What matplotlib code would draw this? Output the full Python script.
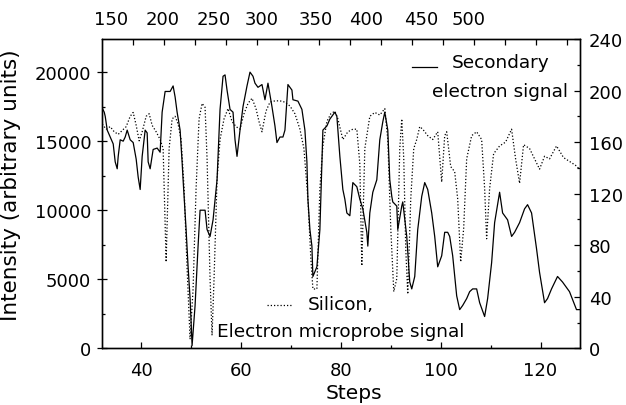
import numpy as np
import matplotlib
matplotlib.use("Agg")
import matplotlib.pyplot as plt
from matplotlib.ticker import MultipleLocator

# ------- data -------
se_steps = [32.2, 32.6, 32.8, 33.2, 33.8, 34.4, 34.8, 35.2, 35.4, 35.8, 36.4, 36.8, 37.2, 37.8,
            38.4, 39.0, 39.4, 39.8, 40.2, 40.8, 41.2, 41.4, 41.8, 42.4, 43.2, 43.8, 44.2, 44.8,
            45.8, 46.4, 46.8, 47.2, 47.8, 48.2, 48.4, 49.0, 49.4, 49.8, 50.2, 50.8, 51.4, 51.8,
            52.8, 53.2, 53.8, 54.4, 55.2, 55.8, 56.4, 56.8, 57.2, 57.8, 58.4, 58.8, 59.2, 59.8,
            60.4, 61.2, 61.8, 62.4, 62.8, 63.4, 64.2, 64.8, 65.4, 66.2, 66.8, 67.2, 67.8, 68.4,
            68.8, 69.4, 70.2, 70.4, 71.4, 72.2, 72.8, 73.2, 73.4, 73.8, 74.2, 74.4, 75.2, 75.8,
            76.4, 77.2, 77.8, 78.8, 79.2, 79.8, 80.4, 80.8, 81.2, 81.8, 82.4, 83.2, 83.8, 84.4,
            85.2, 85.4, 85.8, 86.4, 87.2, 87.8, 88.4, 88.8, 89.4, 89.8, 90.2, 90.4, 91.2, 91.4,
            92.2, 92.4, 93.2, 93.8, 94.2, 94.8, 95.4, 96.2, 96.8, 97.4, 98.2, 98.8, 99.4, 100.2,
            100.8, 101.4, 101.8, 102.4, 103.2, 103.8, 104.4, 105.2, 105.8, 106.4, 107.2, 107.8,
            108.8, 109.4, 110.2, 110.8, 111.8, 112.4, 113.4, 114.2, 114.8, 115.8, 116.8, 117.4,
            118.2, 119.2, 119.8, 120.8, 121.4, 122.2, 123.4, 124.4, 125.8, 127.2, 127.8]
se_signal = [17400, 17100, 16800, 15800, 15300, 14800, 13500, 13000, 13900, 15100, 15000, 15300,
             15800, 15100, 14900, 13700, 12400, 11500, 13900, 15800, 15600, 13500, 13000, 14400,
             14500, 14200, 17100, 18600, 18600, 19000, 18200, 17100, 15800, 13500, 12200, 8600,
             5900, 3600, 200, 3100, 7400, 10000, 10000, 8600, 8100, 9300, 12200, 17300, 19700,
             19800, 18700, 17300, 17100, 15100, 13900, 15800, 17500, 19000, 20000, 19700, 19200,
             18900, 19100, 18000, 19200, 17500, 16100, 14900, 15300, 15300, 15800, 19100, 18700,
             18000, 17900, 17300, 15800, 13500, 10800, 8600, 7400, 5200, 5900, 8600, 15800, 16100,
             16600, 17100, 16800, 13900, 11500, 10800, 9800, 9600, 12000, 11700, 10800, 10100,
             8400, 7400, 9800, 11300, 12200, 15100, 16400, 17100, 15800, 12200, 11000, 10600,
             10300, 8600, 10300, 10600, 8100, 4800, 4300, 5200, 8600, 11000, 12000, 11500, 9800,
             8100, 5900, 6700, 8400, 8400, 8100, 6700, 3800, 2800, 3100, 3600, 4100, 4300, 4300,
             3300, 2300, 3600, 6200, 9100, 11300, 9800, 9300, 8100, 8400, 9100, 10100, 10400,
             9800, 7200, 5500, 3300, 3600, 4300, 5200, 4800, 4100, 2800, 2800]

si_steps = [32.2, 33.0, 33.8, 34.6, 35.4, 36.2, 37.0, 37.8, 38.4, 39.0, 39.6, 40.2, 41.0, 41.6,
            42.2, 43.0, 43.8, 44.4, 45.0, 45.6, 46.2, 46.8, 47.4, 48.0, 48.6, 49.2, 49.8, 50.4,
            51.0, 51.6, 52.2, 52.8, 53.2, 53.8, 54.2, 54.6, 55.2, 55.8, 56.6, 57.4, 58.2, 59.0,
            59.8, 60.6, 61.4, 62.2, 63.0, 63.6, 64.2, 65.0, 65.8, 66.8, 67.8, 68.8, 69.8, 70.8,
            71.8, 72.6, 73.4, 74.0, 74.4, 75.2, 75.8, 76.4, 77.2, 78.0, 78.8, 79.4, 80.4, 81.4,
            82.4, 83.2, 83.8, 84.2, 84.8, 85.8, 86.8, 87.8, 88.8, 89.4, 90.0, 90.6, 91.2, 91.8,
            92.2, 92.6, 93.0, 93.4, 94.0, 94.6, 95.2, 95.8, 96.4, 97.4, 98.4, 99.4, 100.2, 100.8,
            101.2, 102.0, 102.8, 103.4, 104.0, 104.6, 105.2, 106.2, 107.2, 108.2, 108.8, 109.2,
            109.8, 110.6, 111.8, 113.0, 114.2, 115.0, 115.8, 116.6, 117.8, 118.8, 119.8, 120.8,
            121.8, 123.2, 124.6, 125.8, 127.0, 127.8]
si_signal = [174, 170, 172, 168, 166, 169, 172, 180, 183, 173, 161, 168, 180, 182, 173, 168, 162,
             155, 67, 155, 178, 180, 174, 162, 124, 62, 7, 46, 124, 178, 190, 187, 147, 54, 10, 54,
             131, 162, 178, 186, 176, 172, 170, 182, 190, 194, 186, 176, 168, 184, 191, 192, 192,
             191, 188, 182, 170, 155, 116, 69, 46, 46, 124, 157, 176, 182, 184, 178, 162, 168, 170,
             170, 143, 64, 155, 180, 183, 181, 186, 162, 93, 44, 54, 155, 178, 147, 77, 42, 116,
             155, 162, 172, 170, 165, 162, 168, 129, 165, 168, 141, 137, 116, 67, 93, 147, 165,
             168, 162, 124, 85, 124, 151, 157, 160, 170, 147, 128, 158, 155, 147, 139, 149, 147,
             157, 148, 145, 142, 139]

top_labels = ["150", "200", "250", "300", "350", "400", "450", "500"]
top_label_steps = [34.0, 44.2, 54.6, 64.2, 75.0, 85.0, 96.0, 105.6]

#-------figure------
fig = plt.figure(figsize=(6.26, 4.06), dpi=100)
ax = fig.add_axes([0.1625, 0.1397, 0.764, 0.7618])
ax.plot(se_steps, se_signal, color='black', lw=0.9)
ax.set_xlim(32.1, 127.9)
ax.set_ylim(0, 22400)
ax.xaxis.set_major_locator(MultipleLocator(20))
ax.xaxis.set_minor_locator(MultipleLocator(10))
ax.yaxis.set_major_locator(MultipleLocator(5000))
ax.yaxis.set_minor_locator(MultipleLocator(2500))
ax.tick_params(axis='x', which='major', direction='in', length=4, width=0.9, labelsize=13, pad=9)
ax.tick_params(axis='x', which='minor', direction='in', length=2.5, width=0.9)
ax.tick_params(axis='y', which='major', direction='inout', length=7, width=0.9, labelsize=13, pad=4)
ax.tick_params(axis='y', which='minor', direction='in', length=2.5, width=0.9)
ax.set_xlabel("Steps", fontsize=14.5, va='center')
ax.set_ylabel("Intensity (arbitrary units)", fontsize=15.5)
ax.xaxis.set_label_coords(0.527, -0.143)
ax.yaxis.set_label_coords(-0.168, 0.53)

#-----right axis: silicon----
ax2 = ax.twinx()
ax2.plot(si_steps, si_signal, color='black', lw=0.9, linestyle=(0, (1, 1.6)))
ax2.set_ylim(0, 240)
ax2.yaxis.set_major_locator(MultipleLocator(40))
ax2.yaxis.set_minor_locator(MultipleLocator(20))
ax2.tick_params(axis='y', which='major', direction='in', length=4, width=0.9, labelsize=13, pad=6.5)
ax2.tick_params(axis='y', which='minor', direction='in', length=2.5, width=0.9)

#-----top axis----
ax3 = ax.twiny()
ax3.set_xlim(ax.get_xlim())
ax3.set_xticks(top_label_steps)
ax3.set_xticklabels(top_labels)
ax3.set_xticks(np.arange(38.4, 127.9, 6.2), minor=True)
ax3.tick_params(axis='x', which='major', length=0, labelsize=13, pad=8)
ax3.tick_params(axis='x', which='minor', direction='in', length=4, width=0.9)

for a in (ax, ax2, ax3):
    for s in a.spines.values():
        s.set_linewidth(0.9)

#-----legend texts----
ax.plot([0.649, 0.701], [0.909, 0.909], transform=ax.transAxes, color='black', lw=0.9)
ax.text(0.732, 0.926, "Secondary", transform=ax.transAxes, fontsize=13.3, va='center', ha='left')
ax.text(0.975, 0.832, "electron signal", transform=ax.transAxes, fontsize=13.3, va='center', ha='right')
ax.plot([0.346, 0.40], [0.14, 0.14], transform=ax.transAxes, color='black', lw=0.9,
        linestyle=(0, (1, 1.6)))
ax.text(0.431, 0.143, "Silicon,", transform=ax.transAxes, fontsize=13.3, va='center', ha='left')
ax.text(0.241, 0.056, "Electron microprobe signal", transform=ax.transAxes, fontsize=13.3,
        va='center', ha='left')

fig.savefig("out.png", dpi=100)
